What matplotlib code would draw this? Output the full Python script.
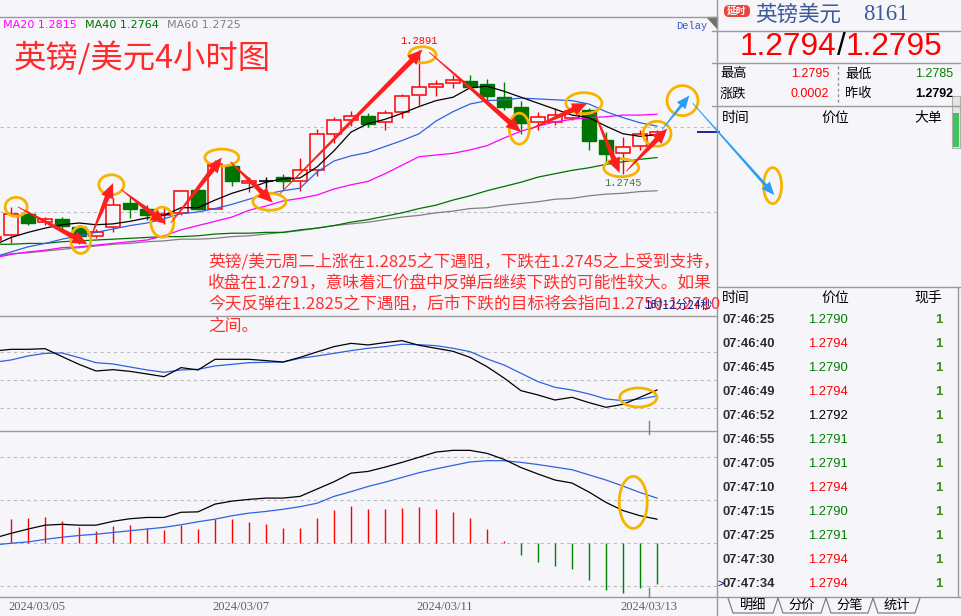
import numpy as np
import matplotlib
matplotlib.use('Agg')
import matplotlib.pyplot as plt
from matplotlib.patches import Ellipse, Polygon, Rectangle, FancyBboxPatch

plt.rcParams['font.family'] = ['Noto Sans CJK SC', 'DejaVu Sans']

W, H = 962, 616
BG = '#f6f6fa'
RED = '#ff0000'
GREEN = '#008000'

# ---- 4h candles (index 0 is cut off at the left edge) ----
opens = [1.2667, 1.2673, 1.2698, 1.2688, 1.2692, 1.2682, 1.2672, 1.2682, 1.2711, 1.2704,
         1.2696, 1.2699, 1.2726, 1.2704, 1.2754, 1.2734, 1.2737, 1.2741, 1.2736, 1.2749,
         1.2792, 1.2808, 1.2813, 1.2806, 1.2818, 1.2838, 1.2847, 1.2852, 1.2854, 1.2851,
         1.2835, 1.2823, 1.2806, 1.2806, 1.2811, 1.2820, 1.2785, 1.2769, 1.2778, 1.2791]
highs = [1.2673, 1.2706, 1.2701, 1.2694, 1.2694, 1.2685, 1.2680, 1.2716, 1.2718, 1.2708,
         1.2705, 1.2726, 1.2728, 1.2761, 1.2759, 1.2741, 1.2741, 1.2745, 1.2763, 1.2798,
         1.2812, 1.2819, 1.2817, 1.2820, 1.2839, 1.2891, 1.2855, 1.2861, 1.2861, 1.2857,
         1.2853, 1.2830, 1.2818, 1.2822, 1.2826, 1.2822, 1.2794, 1.2788, 1.2796, 1.2796]
lows = [1.2666, 1.2663, 1.2685, 1.2685, 1.2679, 1.2662, 1.2669, 1.2676, 1.2693, 1.2691,
        1.2686, 1.2696, 1.2702, 1.2703, 1.2730, 1.2724, 1.2722, 1.2727, 1.2725, 1.2742,
        1.2781, 1.2801, 1.2800, 1.2797, 1.2810, 1.2826, 1.2837, 1.2846, 1.2845, 1.2830,
        1.2820, 1.2792, 1.2796, 1.2802, 1.2808, 1.2773, 1.2758, 1.2745, 1.2773, 1.2789]
closes = [1.2671, 1.2698, 1.2687, 1.2692, 1.2683, 1.2672, 1.2677, 1.2708, 1.2703, 1.2697,
          1.2698, 1.2725, 1.2703, 1.2757, 1.2737, 1.2737, 1.2737, 1.2737, 1.2749, 1.2792,
          1.2808, 1.2813, 1.2804, 1.2817, 1.2836, 1.2847, 1.2851, 1.2855, 1.2847, 1.2836,
          1.2823, 1.2805, 1.2812, 1.2814, 1.2819, 1.2784, 1.2768, 1.2777, 1.2792, 1.2794]

# moving averages on the price chart
ma_short = [1.2661, 1.2670, 1.2676, 1.2681, 1.2685, 1.2687, 1.2685, 1.2686, 1.2689, 1.2693,
            1.2696, 1.2705, 1.2705, 1.2714, 1.2722, 1.2728, 1.2735, 1.2739, 1.2740, 1.2753,
            1.2772, 1.2794, 1.2804, 1.2809, 1.2816, 1.2824, 1.2831, 1.2835, 1.2846, 1.2848,
            1.2842, 1.2835, 1.2828, 1.2821, 1.2814, 1.2811, 1.2801, 1.2792, 1.2789, 1.2791]
ma_mid = [1.2647, 1.2653, 1.2659, 1.2663, 1.2668, 1.2672, 1.2676, 1.2680, 1.2684, 1.2687,
          1.2692, 1.2698, 1.2700, 1.2704, 1.2709, 1.2715, 1.2721, 1.2725, 1.2728, 1.2747,
          1.2760, 1.2766, 1.2770, 1.2777, 1.2784, 1.2792, 1.2807, 1.2818, 1.2827, 1.2831,
          1.2832, 1.2834, 1.2833, 1.2832, 1.2831, 1.2827, 1.2818, 1.2811, 1.2805, 1.2801]
ma20 = [1.2646, 1.2650, 1.2653, 1.2655, 1.2658, 1.2659, 1.2661, 1.2663, 1.2665, 1.2667,
        1.2672, 1.2679, 1.2684, 1.2689, 1.2694, 1.2702, 1.2707, 1.2713, 1.2716, 1.2720,
        1.2727, 1.2732, 1.2736, 1.2745, 1.2755, 1.2765, 1.2767, 1.2769, 1.2773, 1.2778,
        1.2787, 1.2795, 1.2801, 1.2806, 1.2809, 1.2811, 1.2812, 1.2814, 1.2814, 1.2815]
ma40 = [1.2662, 1.2662, 1.2663, 1.2663, 1.2665, 1.2666, 1.2667, 1.2668, 1.2669, 1.2670,
        1.2671, 1.2671, 1.2672, 1.2674, 1.2675, 1.2675, 1.2676, 1.2676, 1.2679, 1.2681,
        1.2684, 1.2688, 1.2691, 1.2695, 1.2699, 1.2704, 1.2708, 1.2714, 1.2719, 1.2725,
        1.2730, 1.2735, 1.2741, 1.2745, 1.2749, 1.2752, 1.2756, 1.2759, 1.2762, 1.2764]
ma60 = [1.2647, 1.2651, 1.2652, 1.2654, 1.2656, 1.2658, 1.2660, 1.2662, 1.2663, 1.2665,
        1.2666, 1.2668, 1.2668, 1.2669, 1.2671, 1.2672, 1.2674, 1.2676, 1.2678, 1.2681,
        1.2684, 1.2686, 1.2688, 1.2691, 1.2694, 1.2696, 1.2699, 1.2701, 1.2704, 1.2705,
        1.2708, 1.2710, 1.2712, 1.2715, 1.2716, 1.2719, 1.2721, 1.2722, 1.2724, 1.2725]

# oscillator panel
osc_k = [81.4, 83.2, 83.2, 83.9, 75.4, 67.1, 60.0, 61.4, 59.6, 56.8, 53.9, 63.6, 61.1, 72.5,
         72.5, 72.5, 71.1, 69.6, 74.6, 80.4, 86.1, 89.6, 87.9, 90.4, 92.5, 87.5, 84.3, 81.1,
         74.6, 64.6, 52.5, 38.9, 34.3, 28.9, 31.8, 26.1, 21.1, 24.3, 31.8, 39.6]
osc_d = [69.3, 71.8, 76.1, 78.9, 79.3, 74.3, 68.9, 67.5, 64.3, 61.1, 58.6, 61.1, 61.8, 65.4,
         67.1, 68.9, 69.3, 69.6, 73.6, 76.1, 78.9, 81.8, 84.3, 86.1, 88.6, 88.2, 87.1, 84.3,
         80.7, 72.9, 66.4, 57.5, 48.6, 42.5, 39.6, 35.4, 30.0, 28.2, 30.0, 33.2]

# MACD panel
dif = [1.2, 2.3, 3.3, 4.2, 4.4, 4.2, 4.2, 5.1, 5.7, 6.0, 6.0, 7.2, 7.3, 9.1, 9.8, 10.2, 10.5,
       10.5, 10.9, 12.6, 14.3, 16.3, 16.7, 17.7, 18.8, 20.0, 21.2, 21.6, 21.6, 20.9, 19.5,
       17.6, 16.1, 14.7, 14.0, 11.9, 9.5, 7.6, 6.4, 5.6]
dea = [-0.4, 0.0, 0.3, 0.9, 1.4, 1.8, 2.1, 2.5, 2.9, 3.3, 3.7, 4.3, 5.0, 5.6, 6.4, 7.0, 7.4,
       7.9, 8.5, 9.3, 10.9, 12.0, 13.2, 14.2, 15.3, 16.4, 17.3, 18.1, 18.9, 19.2, 19.2, 18.8,
       18.3, 17.7, 17.1, 15.9, 14.7, 13.3, 11.8, 10.5]
macd_hist = [5.7, 5.9, 6.1, 5.2, 3.8, 2.9, 4.0, 4.3, 3.6, 3.1, 4.3, 3.3, 5.7, 5.7, 5.0, 4.5,
             3.6, 3.6, 5.9, 7.8, 8.7, 8.0, 8.0, 8.2, 8.5, 8.0, 7.3, 5.9, 3.3, 0.5, -2.7, -4.3,
             -5.4, -5.9, -8.5, -10.9, -11.5, -10.5, -9.5]

date_labels = ['2024/03/05', '2024/03/07', '2024/03/11', '2024/03/13']
date_pos = [2.5, 14.5, 26.5, 38.5]

price_high_label = 1.2891
price_low_label = 1.2745

# quote box
quote_bid, quote_ask = 1.2794, 1.2795
day_high, day_low = 1.2795, 1.2785
day_change, prev_close = 0.0002, 1.2792
trade_times = ['07:46:25', '07:46:40', '07:46:45', '07:46:49', '07:46:52', '07:46:55',
               '07:47:05', '07:47:10', '07:47:15', '07:47:25', '07:47:30', '07:47:34']
trade_prices = [1.2790, 1.2794, 1.2790, 1.2794, 1.2792, 1.2791,
                1.2791, 1.2794, 1.2790, 1.2791, 1.2794, 1.2794]
trade_vols = [1, 1, 1, 1, 1, 1, 1, 1, 1, 1, 1, 1]

note_lines = ['英镑/美元周二上涨在1.2825之下遇阻，下跌在1.2745之上受到支持，',
              '收盘在1.2791，意味着汇价盘中反弹后继续下跌的可能性较大。如果',
              '今天反弹在1.2825之下遇阻，后市下跌的目标将会指向1.2750-1.2710',
              '之间。']

# hand-drawn markup: arrows (index, price) -> (index, price), circles (index, price)
red_arrows = [((1.4, 1.2706), (5.5, 1.2662)), ((5.7, 1.2671), (7.0, 1.2734)),
              ((7.5, 1.2726), (10.1, 1.2686)), ((10.4, 1.2687), (13.4, 1.2764)),
              ((13.9, 1.2759), (16.4, 1.2711)), ((16.8, 1.2721), (25.2, 1.2891)),
              ((25.6, 1.2888), (31.0, 1.2794)), ((31.5, 1.2797), (34.9, 1.2828)),
              ((35.3, 1.2818), (36.8, 1.2746)), ((37.2, 1.2748), (39.6, 1.2798))]
blue_arrows = [((39.3, 1.2797), (40.9, 1.2837)), ((41.1, 1.2828), (45.9, 1.2720))]
circles = [(1.3, 1.2706, 22, 19), (5.1, 1.2667, 20, 27), (6.9, 1.2732, 25, 20),
           (9.9, 1.2688, 23, 30), (13.4, 1.2764, 34, 17), (16.2, 1.2712, 33, 17),
           (25.2, 1.2885, 27, 16), (30.9, 1.2798, 20, 31), (34.7, 1.2828, 36, 21),
           (36.9, 1.2752, 35, 18), (39.0, 1.2792, 28, 25), (40.5, 1.2831, 31, 30),
           (45.8, 1.2731, 18, 36)]


def px_rect(x0, y0, x1, y1):
    return [x0 / W, 1 - y1 / H, (x1 - x0) / W, (y1 - y0) / H]


fig = plt.figure(figsize=(W / 100, H / 100), dpi=100, facecolor=BG)
ax = fig.add_axes(px_rect(0, 17, 717, 316))
ax_k = fig.add_axes(px_rect(0, 316, 717, 431))
ax_m = fig.add_axes(px_rect(0, 431, 717, 597))
for a in (ax, ax_k, ax_m):
    a.set_xlim(0.35, 42.53)
    a.set_axis_off()
ax.set_ylim(1.25776, 1.29294)
ax_k.set_ylim(-4.3, 118.9)
ax_m.set_ylim(-12.5, 26.1)

grid_kw = dict(color='#bdbdbd', lw=0.8, ls=(0, (3, 3)), zorder=0)
for lvl in (1.27, 1.28):
    ax.axhline(lvl, **grid_kw)
for lvl in (20, 50, 80):
    ax_k.axhline(lvl, **grid_kw)
for lvl in (-10, 0, 10, 20):
    ax_m.axhline(lvl, **grid_kw)

# candles
bw = 0.8
for i, (o, h, l, c) in enumerate(zip(opens, highs, lows, closes)):
    top, bot = max(o, c), min(o, c)
    if c > o:
        ax.vlines(i, l, bot, color=RED, lw=1, zorder=2)
        ax.vlines(i, top, h, color=RED, lw=1, zorder=2)
        ax.add_patch(Rectangle((i - bw / 2, bot), bw, top - bot, facecolor=BG,
                               edgecolor=RED, lw=1.1, zorder=3))
    elif c < o:
        ax.vlines(i, l, h, color=GREEN, lw=1, zorder=2)
        ax.add_patch(Rectangle((i - bw / 2, bot), bw, top - bot, facecolor='#007400',
                               edgecolor='#007400', lw=1, zorder=3))
    else:
        ax.vlines(i, l, h, color='black', lw=1, zorder=2)
        ax.hlines(o, i - bw / 2, i + bw / 2, color='black', lw=1.2, zorder=3)

x = np.arange(len(closes))
ax.plot(x, ma60, color='#808080', lw=0.9, zorder=4)
ax.plot(x, ma40, color='#007000', lw=0.9, zorder=4)
ax.plot(x, ma20, color='#ff00ff', lw=0.9, zorder=4)
ax.plot(x, ma_mid, color='#2f62e0', lw=0.9, zorder=4)
ax.plot(x, ma_short, color='black', lw=0.9, zorder=4)
ax.hlines(closes[-1], 41.35, 42.7, color='#000080', lw=1.2, clip_on=False, zorder=5)

ax_k.plot(x, osc_d, color='#2f62e0', lw=0.9)
ax_k.plot(x, osc_k, color='black', lw=0.9)

hx = np.arange(1, len(macd_hist) + 1)
hcol = [RED if v > 0 else GREEN for v in macd_hist]
ax_m.vlines(hx, 0, macd_hist, colors=hcol, lw=1)
ax_m.plot(x, dea, color='#2f62e0', lw=0.9)
ax_m.plot(x, dif, color='black', lw=0.9)

# overlay in pixel coordinates for text, borders and the quote panel
ov = fig.add_axes([0, 0, 1, 1])
ov.set_xlim(0, W)
ov.set_ylim(H, 0)
ov.set_axis_off()
ov.patch.set_alpha(0)


def to_px(a, xv, yv):
    return ov.transData.inverted().transform(a.transData.transform((xv, yv)))


def taper_arrow(p0, p1, color, hl, hw, sw, tw=0.4):
    p0, p1 = np.array(p0), np.array(p1)
    d = p1 - p0
    u = d / np.hypot(*d)
    n = np.array([-u[1], u[0]])
    b = p1 - u * hl
    pts = [p0 + n * tw, b + n * sw, b + n * hw, p1, b - n * hw, b - n * sw, p0 - n * tw]
    ov.add_patch(Polygon(pts, closed=True, facecolor=color, edgecolor='none', zorder=6))


line_c = '#9a9a9a'
for yy in (17, 316, 431):
    ov.plot([0, 717], [yy, yy], color=line_c, lw=1)
ov.plot([0, W], [597, 597], color=line_c, lw=1)
ov.plot([717, 717], [0, H], color=line_c, lw=1)
ov.add_patch(Polygon([(707, 17), (717, 17), (717, 28)], closed=True, color='#707070'))
for yy0, yy1 in ((421, 431), (431, 434), (588, 597)):
    ov.plot([649, 649], [yy0, yy1], color='#808080', lw=1)

# price chart texts
ov.text(3, 25, 'MA20 1.2815', color='#ff00ff', fontsize=8, family='DejaVu Sans', va='center')
ov.text(85, 25, 'MA40 1.2764', color='#007000', fontsize=8, family='DejaVu Sans', va='center')
ov.text(167, 25, 'MA60 1.2725', color='#808080', fontsize=8, family='DejaVu Sans', va='center')
ov.text(692, 26, 'Delay', color='#3355cc', fontsize=7.5, family='Liberation Mono', va='center',
        ha='center')
ov.text(14, 58, '英镑/美元4小时图', color='#ff2a2a', fontsize=23.3, va='center')
hx_px, hy_px = to_px(ax, 25, price_high_label)
ov.text(hx_px, hy_px - 9, f'{price_high_label:.4f}', color=RED, fontsize=7.5,
        family='Liberation Mono', ha='center', va='center')
lx_px, ly_px = to_px(ax, 37, price_low_label)
ov.text(lx_px, ly_px + 9, f'{price_low_label:.4f}', color='#3d7a3d', fontsize=7.5,
        family='Liberation Mono', ha='center', va='center')

for k, s in enumerate(note_lines):
    ov.text(208, 262 + 21.5 * k, s, color='#ff3030', fontsize=12.1, va='center')
ov.text(645, 305, '1时12分24秒', color='#1a1a8c', fontsize=8.5, va='center')

for (i, p, w, h) in circles:
    cx, cy = to_px(ax, i, p)
    ov.add_patch(Ellipse((cx, cy), w, h, fill=False, edgecolor='#f5b400', lw=2, zorder=5))
cx, cy = to_px(ax_k, 37.9, 31.6)
ov.add_patch(Ellipse((cx, cy), 37, 19, fill=False, edgecolor='#f5b400', lw=2, zorder=5))
cx, cy = to_px(ax_m, 37.6, 9.5)
ov.add_patch(Ellipse((cx, cy), 28, 52, fill=False, edgecolor='#f5b400', lw=2, zorder=5))

for (a0, a1) in red_arrows:
    taper_arrow(to_px(ax, *a0), to_px(ax, *a1), '#ff1e1e', 15, 6.5, 2.6)
for (a0, a1) in blue_arrows:
    taper_arrow(to_px(ax, *a0), to_px(ax, *a1), '#2a9df4', 13, 5.5, 1.5)

# date axis
for pos, lab in zip(date_pos, date_labels):
    px_x = to_px(ax_m, pos, 0)[0]
    ov.text(px_x, 607, lab, color='#606060', fontsize=9, family='Liberation Serif',
            ha='center', va='center')

# ---- quote panel ----
ov.add_patch(FancyBboxPatch((724, 5), 26, 12, boxstyle='round,pad=0,rounding_size=5',
                            facecolor='#e8453c', edgecolor='none'))
ov.text(737, 11, '延时', color='white', fontsize=7, weight='bold', ha='center', va='center')
ov.text(755, 15, '英镑美元', color='#3c5a96', fontsize=15.5, va='center')
ov.text(863, 15, '8161', color='#3c5a96', fontsize=16.5, family='Liberation Serif', va='center')
for yy in (31, 63, 106):
    ov.plot([712, W], [yy, yy], color=line_c, lw=1)
ov.text(836, 47, f'{quote_bid:.4f}', color=RED, fontsize=22.8, family='Liberation Sans',
        ha='right', va='center')
ov.text(841, 47, '/', color='black', fontsize=22.8, family='Liberation Sans', ha='center',
        va='center')
ov.text(846, 47, f'{quote_ask:.4f}', color=RED, fontsize=22.8, family='Liberation Sans',
        ha='left', va='center')
ov.plot([838, 838], [66, 104], color='#909090', lw=1, ls=(0, (2, 2)))
ov.text(720, 74, '最高', fontsize=9.5, va='center')
ov.text(720, 94, '涨跌', fontsize=9.5, va='center')
ov.text(845, 74, '最低', fontsize=9.5, va='center')
ov.text(845, 94, '昨收', fontsize=9.5, va='center')
num_kw = dict(fontsize=9, family='Liberation Sans', ha='right', va='center')
ov.text(829, 74, f'{day_high:.4f}', color=RED, **num_kw)
ov.text(829, 94, f'{day_change:.4f}', color=RED, **num_kw)
ov.text(953, 74, f'{day_low:.4f}', color=GREEN, **num_kw)
ov.text(953, 94, f'{prev_close:.4f}', color='black', weight='bold', **num_kw)
ov.text(722, 118, '时间', fontsize=10, va='center')
ov.text(835, 118, '价位', fontsize=10, va='center', ha='center')
ov.text(928, 118, '大单', fontsize=10, va='center', ha='center')
ov.add_patch(Rectangle((952.5, 96), 8, 52, facecolor='#e4e4e4', edgecolor='#b0b0b0', lw=0.8))
ov.add_patch(Rectangle((953.5, 113), 6, 34, facecolor='#44c060', edgecolor='none'))

ov.plot([717, W], [287, 287], color=line_c, lw=1)
ov.plot([958, 958], [287, 597], color=line_c, lw=1)
ov.text(722, 298, '时间', fontsize=10, va='center')
ov.text(835, 298, '价位', fontsize=10, va='center', ha='center')
ov.text(928, 298, '现手', fontsize=10, va='center', ha='center')
for k, (t, p, v) in enumerate(zip(trade_times, trade_prices, trade_vols)):
    yy = 320 + 24 * k
    if p > prev_close:
        pc = RED
    elif p < prev_close:
        pc = GREEN
    else:
        pc = 'black'
    ov.text(723, yy, t, color='#2a2a30', fontsize=9.4, weight='bold',
            family='Liberation Sans', va='center')
    ov.text(848, yy, f'{p:.4f}', color=pc, fontsize=9.4, family='Liberation Sans',
            ha='right', va='center')
    ov.text(942, yy, str(v), color='#3a8a00', fontsize=9.4, weight='bold',
            family='Liberation Sans', ha='right', va='center')
ov.text(718, 584, '>', color='#000080', fontsize=8, family='Liberation Sans', va='center')

tabs = ['明细', '分价', '分笔', '统计']
tab_x = [728, 778, 826, 873, 920]
for k, lab in enumerate(tabs):
    x0, x1 = tab_x[k], tab_x[k + 1]
    ov.plot([x0, x0 + 5, x1 - 5, x1], [598, 613, 613, 598], color='#808080', lw=0.9)
    ov.text((x0 + x1) / 2, 605, lab, fontsize=9.5, ha='center', va='center')

fig.savefig('out.png', dpi=100, facecolor=BG)
